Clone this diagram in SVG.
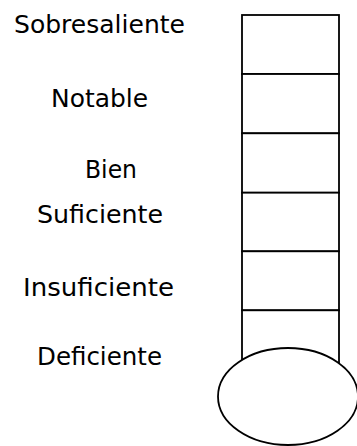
<svg xmlns="http://www.w3.org/2000/svg" width="357" height="446" viewBox="0 0 357 446">
<style>
.lbl{font-family:"Comic Sans MS","DejaVu Sans",sans-serif;font-size:25px;fill:#000}
.cell{fill:#fff;stroke:#000;stroke-width:1.8}
.bulb{fill:#fff;stroke:#000;stroke-width:1.8}
</style>
<rect width="357" height="446" fill="#fff"/>
<g id="labels">
<text class="lbl" x="14" y="33" textLength="171" lengthAdjust="spacingAndGlyphs">Sobresaliente</text>
<text class="lbl" x="51" y="107" textLength="97" lengthAdjust="spacingAndGlyphs">Notable</text>
<text class="lbl" x="85" y="178" textLength="52" lengthAdjust="spacingAndGlyphs">Bien</text>
<text class="lbl" x="37" y="222.5" textLength="126" lengthAdjust="spacingAndGlyphs">Suficiente</text>
<text class="lbl" x="23" y="296" textLength="151" lengthAdjust="spacingAndGlyphs">Insuficiente</text>
<text class="lbl" x="37" y="365" textLength="125" lengthAdjust="spacingAndGlyphs">Deficiente</text>
</g>
<g id="thermometer">
<g id="cell-sobresaliente"><rect class="cell" x="242" y="15" width="97" height="59"/></g>
<g id="cell-notable"><rect class="cell" x="242" y="74" width="97" height="59.3"/></g>
<g id="cell-bien"><rect class="cell" x="242" y="133.3" width="97" height="59.4"/></g>
<g id="cell-suficiente"><rect class="cell" x="242" y="192.7" width="97" height="58.6"/></g>
<g id="cell-insuficiente"><rect class="cell" x="242" y="251.3" width="97" height="59"/></g>
<g id="cell-deficiente"><rect class="cell" x="242" y="310.3" width="97" height="59.2"/></g>
<g id="bulb"><ellipse class="bulb" cx="288" cy="396.5" rx="70" ry="48.5"/></g>
</g>
</svg>
